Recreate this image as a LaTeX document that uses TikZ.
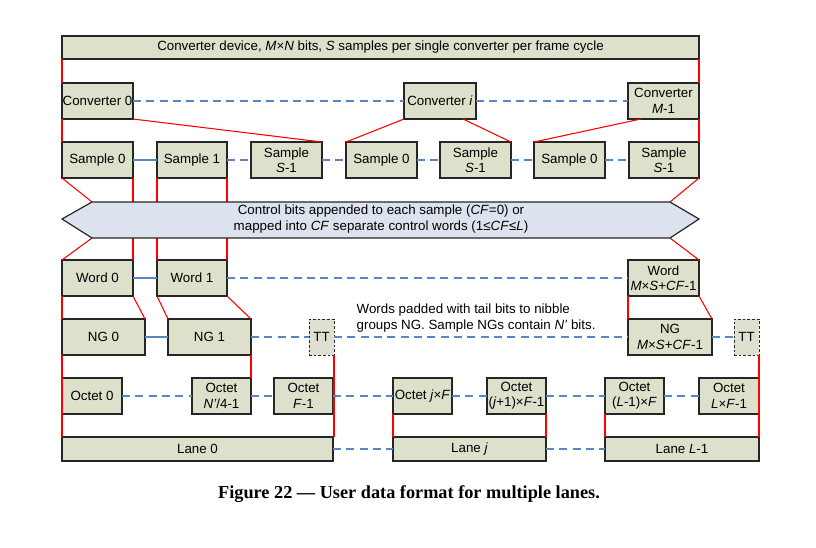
\documentclass[tikz,border=0pt]{standalone}
\usepackage{fontspec}
\setmainfont{Liberation Sans}
\newfontfamily\capfont{Liberation Serif}
\usetikzlibrary{calc,patterns}
\definecolor{boxfill}{RGB}{221,224,203}
\definecolor{arrowfill}{RGB}{220,227,239}
\definecolor{linkblue}{RGB}{88,136,196}
\newcommand\bx[7][]{\node[box,#1,minimum width={(#5-#3)*0.75pt},minimum height={(#6-#4)*0.75pt}] (#2) at ({(#3+#5)/2},{(#4+#6)/2}) {#7};}
\begin{document}
\begin{tikzpicture}[x=0.75pt,y=-0.75pt,
  box/.style={draw=black!85,line width=0.9pt,fill=boxfill,inner sep=0pt,outer sep=0pt,align=center,font=\fontsize{10}{11.5}\selectfont},
  ttbox/.style={line width=0.7pt,dash pattern=on 2pt off 1.5pt,preaction={fill=boxfill},pattern=vertical lines,pattern color=black!12},
  rl/.style={draw=red,line width=0.8pt},
  bls/.style={draw=linkblue,line width=0.9pt},
  bld/.style={draw=linkblue,line width=0.9pt,dash pattern=on 6pt off 4pt}]
\useasboundingbox (0,0) rectangle (816,547);
\fill[white] (0,0) rectangle (816,547);
\coordinate (aL) at (62,219);
\coordinate (aTL) at (92,202);
\coordinate (aTR) at (670,202);
\coordinate (aR) at (699,219);
\coordinate (aBR) at (670,238);
\coordinate (aBL) at (92,238);
% boxes
\bx{top}{62}{36}{699}{59}{Converter device, \textit{M}×\textit{N} bits, \textit{S} samples per single converter per frame cycle}
\bx{c0}{62}{83}{133}{119}{Converter 0}
\bx{ci}{404}{83}{476}{119}{Converter \textit{i}}
\bx{cM}{628}{83}{699}{119}{Converter\\\textit{M}-1}
\bx{sa0}{62}{142}{133}{178}{Sample 0}
\bx{sa1}{157}{142}{227}{178}{Sample 1}
\bx{saS}{251}{142}{322}{178}{Sample\\\textit{S}-1}
\bx{sb0}{346}{142}{417}{178}{Sample 0}
\bx{sbS}{440}{142}{511}{178}{Sample\\\textit{S}-1}
\bx{sc0}{534}{142}{605}{178}{Sample 0}
\bx{scS}{629}{142}{699}{178}{Sample\\\textit{S}-1}
\bx{w0}{62}{260}{133}{296}{Word 0}
\bx{w1}{157}{260}{227}{296}{Word 1}
\bx{wM}{628}{260}{699}{296}{Word\\\textit{M}×\textit{S}+\textit{CF}-1}
\bx{ng0}{62}{319}{145}{355}{NG 0}
\bx{ng1}{168}{319}{251}{355}{NG 1}
\bx[ttbox]{tt1}{309}{319}{334}{355}{TT}
\bx{ngM}{628}{319}{712}{355}{NG\\\textit{M}×\textit{S}+\textit{CF}-1}
\bx[ttbox]{tt2}{734}{319}{759}{355}{TT}
\bx{o0}{62}{378}{122}{414}{Octet 0}
\bx{o1}{192}{378}{251}{414}{Octet\\\textit{N'}/4-1}
\bx{o2}{274}{378}{333}{414}{Octet\\\textit{F}-1}
\bx{o3}{393}{378}{452}{414}{Octet \textit{j}×\textit{F}}
\bx{o4}{487}{378}{546}{414}{Octet\\(\textit{j}+1)×\textit{F}-1}
\bx{o5}{605}{378}{664}{414}{Octet\\(\textit{L}-1)×\textit{F}}
\bx{o6}{699}{378}{759}{414}{Octet\\\textit{L}×\textit{F}-1}
\bx{l0}{62}{437}{333}{461}{Lane 0}
\bx{lj}{393}{437}{546}{461}{Lane \textit{j}}
\bx{lL}{605}{437}{759}{461}{Lane \textit{L}-1}
% red connectors
\draw[rl] (top.south west) -- (c0.north west);
\draw[rl] (c0.south west) -- (sa0.north west);
\draw[rl] (top.south east) -- (cM.north east);
\draw[rl] (cM.south east) -- (scS.north east);
\draw[rl] (c0.south east) -- (saS.north east);
\draw[rl] (ci.south west) -- (sb0.north west);
\draw[rl] ($(ci.south west)!0.82!(ci.south east)$) -- (sbS.north east);
\draw[rl] ($(cM.south west)!0.18!(cM.south east)$) -- (sc0.north west);
\draw[rl] (sa0.south west) -- (aTL);
\draw[rl] (scS.south east) -- (aTR);
\draw[rl] (aBL) -- (w0.north west);
\draw[rl] (aBR) -- (wM.north east);
\draw[rl] (sa0.south east) -- (w0.north east);
\draw[rl] (sa1.south west) -- (w1.north west);
\draw[rl] (sa1.south east) -- (w1.north east);
% control arrow
\draw[line width=0.9pt,draw=black!85,fill=arrowfill] (aL) -- (aTL) -- (aTR) -- (aR) -- (aBR) -- (aBL) -- cycle;
\node[font=\fontsize{10}{12}\selectfont,align=center] (ctrl) at (381,219) {Control bits appended to each sample (\textit{CF}=0) or\\mapped into \textit{CF} separate control words (1≤\textit{CF}≤\textit{L})};
\draw[rl] (w0.south west) -- (ng0.north west);
\draw[rl] (w0.south east) -- (ng0.north east);
\draw[rl] (w1.south west) -- (ng1.north west);
\draw[rl] (w1.south east) -- (ng1.north east);
\draw[rl] (wM.south west) -- (ngM.north west);
\draw[rl] (wM.south east) -- (ngM.north east);
\draw[rl] (ng0.south west) -- (l0.north west);
\draw[rl] (ng1.south east) -- (o1.north east);
\draw[rl] (tt1.south east) -- (tt1.south east |- l0.north);
\draw[rl] (tt2.south east) -- (lL.north east);
\draw[rl] (o3.south west) -- (lj.north west);
\draw[rl] (o4.south east) -- (lj.north east);
\draw[rl] (o5.south west) -- (lL.north west);
% blue connectors
\draw[bld] (c0) -- (ci);
\draw[bld] (ci) -- (cM);
\draw[bls] (sa0) -- (sa1);
\draw[bld] (sa1) -- (saS);
\draw[bld] (saS) -- (sb0);
\draw[bld] (sb0) -- (sbS);
\draw[bld] (sbS) -- (sc0);
\draw[bld] (sc0) -- (scS);
\draw[bls] (w0) -- (w1);
\draw[bld] (w1) -- (wM);
\draw[bls] (ng0) -- (ng1);
\draw[bld] (ng1) -- (tt1);
\draw[bld] (tt1) -- (ngM);
\draw[bld] (ngM) -- (tt2);
\draw[bld] (o0) -- (o1);
\draw[bld] (o1) -- (o2);
\draw[bld] (o2) -- (o3);
\draw[bld] (o3) -- (o4);
\draw[bld] (o4) -- (o5);
\draw[bld] (o5) -- (o6);
\draw[bld] (l0) -- (lj);
\draw[bld] (lj) -- (lL);
% notes
\node[font=\fontsize{10}{12}\selectfont,align=left,anchor=west] (note) at (352,318) {Words padded with tail bits to nibble\\groups NG. Sample NGs contain \textit{N'} bits.};
\node[font=\capfont\bfseries\fontsize{13.7}{16}\selectfont] (cap) at (409,494) {Figure 22 — User data format for multiple lanes.};
\end{tikzpicture}
\end{document}
